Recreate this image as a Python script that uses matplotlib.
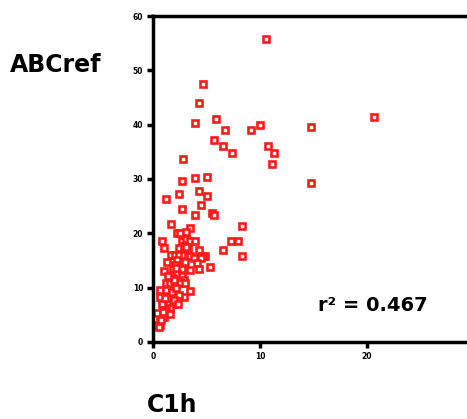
import matplotlib.pyplot as plt

# C1h (x) vs ABCref (y)
c1h = [10.53, 4.70, 4.27, 3.90, 5.89, 6.70, 9.13, 9.97, 14.79, 20.65,
       5.70, 6.51, 7.36, 10.75, 11.34, 11.12, 2.83, 14.79, 2.68, 3.90,
       5.07, 1.24, 2.46, 4.27, 5.07, 2.68, 4.49, 3.90, 5.51, 5.73,
       1.65, 3.49, 2.27, 2.52, 8.35, 0.84, 2.68, 3.08, 3.49, 3.90,
       7.32, 7.92, 1.03, 2.46, 2.87, 3.27, 4.30, 6.51, 1.65, 2.06,
       2.46, 2.87, 3.27, 3.49, 4.89, 4.67, 4.51, 8.35, 3.86, 4.08,
       2.27, 2.06, 1.84, 4.30, 5.30, 1.03, 2.68, 2.27, 1.84, 2.68,
       2.87, 1.21, 1.59, 2.06, 2.52, 2.99, 3.49, 0.65, 2.87, 2.46,
       0.65, 0.84, 1.47, 1.84, 1.43, 1.59, 0.65, 1.06, 0.44, 0.65,
       0.40, 1.21, 1.78, 2.15, 1.12, 1.96, 2.34, 1.21, 0.93, 1.59,
       1.96, 1.40, 2.15, 2.99, 3.08, 0.75, 0.56, 1.31, 3.46, 3.08]
abcref = [55.8, 47.5, 43.9, 40.3, 41.1, 39.1, 39.1, 39.9, 39.6, 41.5,
          37.2, 36.0, 34.8, 36.0, 34.8, 32.8, 33.6, 29.2, 29.7, 30.1,
          30.4, 26.4, 27.2, 27.7, 26.8, 24.5, 25.3, 23.3, 23.7, 23.3,
          21.7, 20.9, 20.1, 20.1, 21.3, 18.5, 18.5, 18.9, 18.5, 18.5,
          18.5, 18.5, 17.3, 17.3, 17.7, 17.3, 16.9, 16.9, 16.1, 16.1,
          16.1, 16.1, 15.8, 15.8, 15.8, 15.8, 15.4, 15.8, 15.4, 14.6,
          15.0, 14.2, 13.4, 13.4, 13.8, 13.0, 13.4, 12.6, 11.8, 12.2,
          11.4, 10.8, 10.8, 10.8, 10.8, 10.8, 9.4, 9.5, 8.3, 8.6,
          8.3, 7.0, 7.0, 7.0, 8.1, 6.2, 4.4, 4.6, 3.1, 3.1,
          5.3, 9.5, 9.2, 9.9, 8.1, 7.7, 7.0, 5.9, 5.5, 5.1,
          11.4, 12.1, 13.6, 14.7, 20.2, 4.0, 2.8, 14.7, 13.2, 17.4]

x_ticks = [0, 10, 20]
y_ticks = [0, 10, 20, 30, 40, 50, 60]

fig = plt.figure(figsize=(4.67, 4.19), dpi=100)
ax = fig.add_axes([0.3276, 0.1838, 0.6724, 0.778])

ax.plot(c1h, abcref, linestyle='none', marker='s', markersize=3.7,
        markerfacecolor='white', markeredgecolor='#ff1a1a', markeredgewidth=1.9)

ax.set_xlim(0, 29.35)
ax.set_ylim(0, 60)
ax.set_xticks(x_ticks)
ax.set_yticks(y_ticks)
ax.tick_params(direction='out', length=4, width=2.5, labelsize=5.5, pad=3)
for lbl in ax.get_xticklabels() + ax.get_yticklabels():
    lbl.set_fontweight('bold')

for side in ['left', 'bottom', 'top']:
    ax.spines[side].set_linewidth(2.5)
ax.spines['right'].set_visible(False)

fig.text(0.021, 0.845, 'ABCref', fontsize=17, fontweight='bold', va='center')
fig.text(0.315, 0.033, 'C1h', fontsize=17, fontweight='bold', va='center')
fig.text(0.68, 0.272, 'r² = 0.467', fontsize=14, fontweight='bold', va='center')

fig.savefig('out.png', dpi=100)
